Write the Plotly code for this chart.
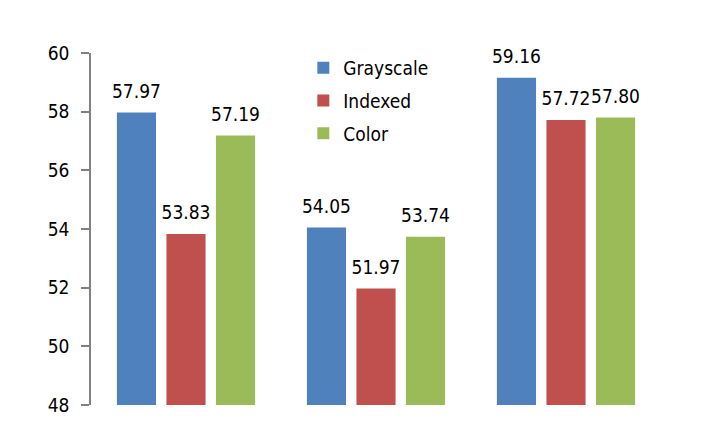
import plotly.graph_objects as go

categories = ["A", "B", "C"]
series_names = ["Grayscale", "Indexed", "Color"]
grayscale = [57.97, 54.05, 59.16]
indexed = [53.83, 51.97, 57.72]
color = [57.19, 53.74, 57.80]
colors = ["#4F81BD", "#C0504D", "#9BBB59"]
y_ticks = [48, 50, 52, 54, 56, 58, 60]

FONT = "DejaVu Sans Condensed, DejaVu Sans"
FS = 19
fig = go.Figure()
for name, vals, col in zip(series_names, [grayscale, indexed, color], colors):
    fig.add_trace(go.Bar(
        x=categories, y=vals, name=name, marker=dict(color=col, line=dict(width=0)),
        offsetgroup=name, legendgroup=name, hoverinfo="skip",
    ))
for name, vals in zip(series_names, [grayscale, indexed, color]):
    fig.add_trace(go.Scatter(
        x=categories, y=vals, mode="markers+text", offsetgroup=name,
        text=[f"{v:.2f}" for v in vals], textposition="top center",
        textfont=dict(family=FONT, size=FS, color="#000000"),
        marker=dict(size=14, opacity=0), showlegend=False, hoverinfo="skip",
        cliponaxis=False,
    ))

fig.update_layout(
    width=702, height=422,
    margin=dict(l=91, r=41, t=53, b=17),
    paper_bgcolor="white", plot_bgcolor="white",
    barmode="group", bargap=0.218, bargroupgap=0.21,
    scattermode="group", scattergap=0.218,
    font=dict(family=FONT, size=FS, color="#000000"),
    showlegend=True,
    legend=dict(x=0.3725, y=1.0117, xanchor="left", yanchor="top",
                font=dict(family=FONT, size=FS), tracegroupgap=5,
                bgcolor="rgba(0,0,0,0)", itemwidth=30),
    xaxis=dict(showticklabels=False, showline=False, ticks="", showgrid=False,
               zeroline=False, range=[-0.5, 2.5], automargin=False),
    yaxis=dict(range=[48, 60], tickvals=y_ticks, ticks="outside", ticklen=8,
               tickwidth=1.5, tickcolor="#808080", showline=True, linewidth=1.5,
               linecolor="#808080", showgrid=False, zeroline=False, automargin=False,
               ticklabelstandoff=8, tickfont=dict(family=FONT, size=FS)),
)
fig.write_html("out.html", config={"displayModeBar": False},
               post_script="document.body.style.margin='0';document.body.style.overflow='hidden';")
